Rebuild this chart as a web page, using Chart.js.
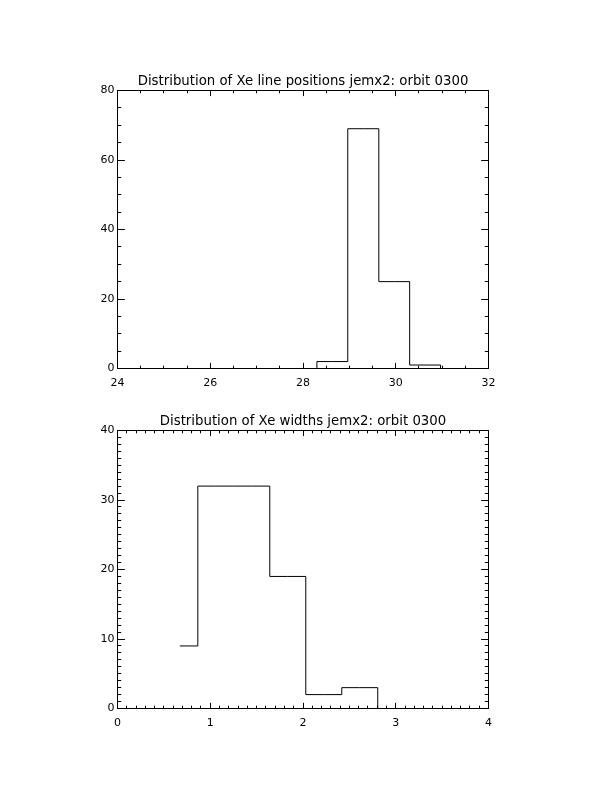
<!DOCTYPE html>
<html>
<head>
<meta charset="utf-8">
<script src="https://cdn.jsdelivr.net/npm/chart.js@4.4.1/dist/chart.umd.min.js"></script>
<style>
  html, body { margin: 0; padding: 0; background: #fff; }
  body { width: 612px; height: 792px; position: relative; overflow: hidden; }
  canvas { position: absolute; left: 0; }
  #chart-positions { top: 0; }
  #chart-widths { top: 340px; }
</style>
</head>
<body>
<canvas id="chart-positions" width="612" height="396"></canvas>
<canvas id="chart-widths" width="612" height="396"></canvas>
<script>
  /* ===== data: Xe line positions ===== */
  const posTitle = "Distribution of Xe line positions jemx2: orbit 0300";
  const posCenters = [27.97, 28.63, 29.30, 29.97, 30.63, 31.30];
  const posCounts = [0, 2, 69, 25, 1, 0];
  const posXTicks = [24, 26, 28, 30, 32];
  const posYTicks = [0, 20, 40, 60, 80];
  const posXMinor = 0.5;
  const posYMinor = 5;

  /* ===== data: Xe widths ===== */
  const widthTitle = "Distribution of Xe widths jemx2: orbit 0300";
  const widthCenters = [0.672, 1.060, 1.448, 1.836, 2.224, 2.612, 3.000];
  const widthCounts = [9, 32, 32, 19, 2, 3, 0];
  const widthXTicks = [0, 1, 2, 3, 4];
  const widthYTicks = [0, 10, 20, 30, 40];
  const widthXMinor = 0.1;
  const widthYMinor = 1;

  Chart.defaults.font.family = "'DejaVu Sans', sans-serif";
  Chart.defaults.color = "#000";

  // IDL style frame: title over the plot, box and inward major / minor ticks on all sides
  const idlFrame = {
    id: "idlFrame",
    afterDraw(chart, args, opts) {
      const { ctx, chartArea: a, scales: { x, y } } = chart;
      const snap = v => Math.floor(v) + 0.5;
      const L = snap(a.left), R = snap(a.right), T = snap(a.top), B = snap(a.bottom);
      ctx.save();
      ctx.fillStyle = "#000";
      ctx.font = "13.3px 'DejaVu Sans', sans-serif";
      ctx.textAlign = "center";
      ctx.textBaseline = "alphabetic";
      ctx.fillText(opts.title, (a.left + a.right) / 2, a.top - 6);

      ctx.strokeStyle = "#000";
      ctx.lineWidth = 1;
      ctx.strokeRect(L, T, R - L, B - T);
      ctx.beginPath();
      // x ticks
      let n = Math.round((x.max - x.min) / opts.xMinor);
      let every = Math.round(opts.xMajor / opts.xMinor);
      for (let i = 0; i <= n; i++) {
        let px = snap(x.getPixelForValue(x.min + i * opts.xMinor));
        let len = i % every === 0 ? 5.6 : 2.8;
        ctx.moveTo(px, B); ctx.lineTo(px, B - len);
        ctx.moveTo(px, T); ctx.lineTo(px, T + len);
      }
      // y ticks
      n = Math.round((y.max - y.min) / opts.yMinor);
      every = Math.round(opts.yMajor / opts.yMinor);
      for (let i = 0; i <= n; i++) {
        let py = snap(y.getPixelForValue(y.min + i * opts.yMinor));
        let len = i % every === 0 ? 7.4 : 3.7;
        ctx.moveTo(L, py); ctx.lineTo(L + len, py);
        ctx.moveTo(R, py); ctx.lineTo(R - len, py);
      }
      ctx.stroke();
      ctx.restore();
    }
  };

  function histChart(id, title, centers, counts, xTicks, yTicks, xMinor, yMinor) {
    let canvas = document.getElementById(id).getContext("2d");
    return new Chart(canvas, {
      type: "line",
      data: {
        datasets: [{
          data: centers.map((c, i) => ({ x: c, y: counts[i] })),
          stepped: "middle",
          borderColor: "#000",
          borderWidth: 1,
          pointRadius: 0,
          fill: false
        }]
      },
      options: {
        responsive: false,
        animation: false,
        devicePixelRatio: 1,
        layout: { padding: { left: 0, right: 123.5, top: 90.5, bottom: 0 } },
        plugins: {
          legend: { display: false },
          tooltip: { enabled: false },
          title: { display: false },
          idlFrame: {
            title: title,
            xMajor: xTicks[1] - xTicks[0], xMinor: xMinor,
            yMajor: yTicks[1] - yTicks[0], yMinor: yMinor
          }
        },
        scales: {
          x: {
            type: "linear",
            min: xTicks[0],
            max: xTicks[xTicks.length - 1],
            grid: { display: false, drawTicks: false },
            border: { display: false },
            ticks: { font: { size: 11 }, padding: 8, maxRotation: 0 },
            afterBuildTicks: s => { s.ticks = xTicks.map(v => ({ value: v })); },
            afterFit: s => { s.height = 27.5; }
          },
          y: {
            min: yTicks[0],
            max: yTicks[yTicks.length - 1],
            grid: { display: false, drawTicks: false },
            border: { display: false },
            ticks: { font: { size: 11 }, padding: 3 },
            afterBuildTicks: s => { s.ticks = yTicks.map(v => ({ value: v })); },
            afterFit: s => { s.width = 117.5; }
          }
        }
      },
      plugins: [idlFrame]
    });
  }

  histChart("chart-positions", posTitle, posCenters, posCounts, posXTicks, posYTicks, posXMinor, posYMinor);
  histChart("chart-widths", widthTitle, widthCenters, widthCounts, widthXTicks, widthYTicks, widthXMinor, widthYMinor);
</script>
</body>
</html>
